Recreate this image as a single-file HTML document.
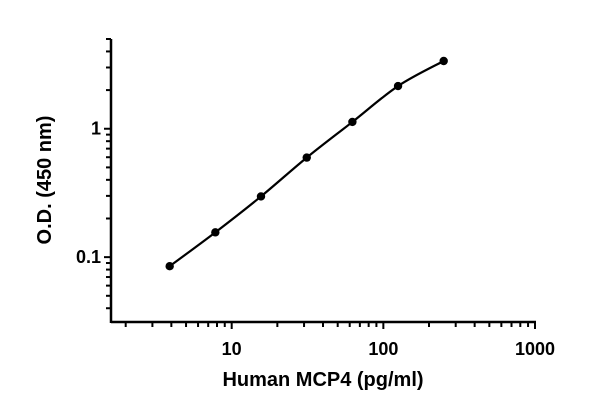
<!DOCTYPE html>
<html><head><meta charset="utf-8"><style>
body{margin:0;background:#fff;}
svg text{font-family:"Liberation Sans",sans-serif;font-weight:bold;fill:#000;}
</style></head><body>
<svg id="chart" width="600" height="409" xmlns="http://www.w3.org/2000/svg"></svg>
<script>
const concentrations=[3.9,7.8,15.6,31.25,62.5,125,250];
const odValues=[0.085,0.156,0.297,0.596,1.13,2.15,3.37];
const xTickLabels=["10","100","1000"];
const yTickLabels=["0.1","1"];
const NS="http://www.w3.org/2000/svg";
const svg=document.getElementById('chart');
const X0=111,X1=535,Y0=322,Y1=39;
const xmin=Math.log10(1.6),xmax=3;
const ymin=Math.log10(0.03125),ymax=Math.log10(5);
function xs(v){return X0+(Math.log10(v)-xmin)/(xmax-xmin)*(X1-X0);}
function ys(v){return Y0-(Math.log10(v)-ymin)/(ymax-ymin)*(Y0-Y1);}
function mk(t,a,name){const e=document.createElementNS(NS,t);for(const k in a)e.setAttribute(k,a[k]);


svg.appendChild(e);return e;}
mk('line',{x1:X0,y1:Y0,x2:X1+1,y2:Y0,stroke:'#000','stroke-width':2.5},'x-axis');
mk('line',{x1:X0,y1:Y0+1,x2:X0,y2:Y1,stroke:'#000','stroke-width':2.5},'y-axis');
// x ticks
for(let d=1;d<=1000;d*=10){for(let m=1;m<10;m++){const v=d*m;if(v<2||v>1000)continue;
 const x=xs(v);const major=(m===1);
 mk('line',{x1:x,y1:Y0,x2:x,y2:Y0+(major?7:5),stroke:'#000','stroke-width':2},'x-tick');}}
xTickLabels.forEach(l=>{const t=mk('text',{x:xs(+l),y:Y0+33,'text-anchor':'middle','font-size':18},'x-tick-label');t.textContent=l;});
// y ticks
for(let d=0.01;d<=10;d*=10){for(let m=1;m<10;m++){const v=+(d*m).toPrecision(3);if(v<0.04||v>5.01)continue;
 const y=ys(v);const major=(m===1);
 mk('line',{x1:X0,y1:y,x2:X0-(major?7:5),y2:y,stroke:'#000','stroke-width':2},'y-tick');}}
yTickLabels.forEach(l=>{const t=mk('text',{x:X0-10,y:ys(+l)+6,'text-anchor':'end','font-size':18},'y-tick-label');t.textContent=l;});
// curve
const pts=concentrations.map((c,i)=>[xs(c),ys(odValues[i])]);
let d='M'+pts[0][0]+','+pts[0][1];
for(let i=0;i<pts.length-1;i++){const p0=pts[Math.max(0,i-1)],p1=pts[i],p2=pts[i+1],p3=pts[Math.min(pts.length-1,i+2)];
 d+=' C'+(p1[0]+(p2[0]-p0[0])/6)+','+(p1[1]+(p2[1]-p0[1])/6)+' '+(p2[0]-(p3[0]-p1[0])/6)+','+(p2[1]-(p3[1]-p1[1])/6)+' '+p2[0]+','+p2[1];}
mk('path',{d:d,fill:'none',stroke:'#000','stroke-width':2.2},'fit-curve');
pts.forEach(p=>mk('circle',{cx:p[0],cy:p[1],r:4.2,fill:'#000'},'data-point'));
const xt=mk('text',{x:323,y:386,'text-anchor':'middle','font-size':20},'x-axis-title');xt.textContent='Human MCP4 (pg/ml)';
const yt=mk('text',{x:0,y:0,'text-anchor':'middle','font-size':20,transform:'translate(51,180) rotate(-90)'},'y-axis-title');yt.textContent='O.D. (450 nm)';
</script>
</body></html>
